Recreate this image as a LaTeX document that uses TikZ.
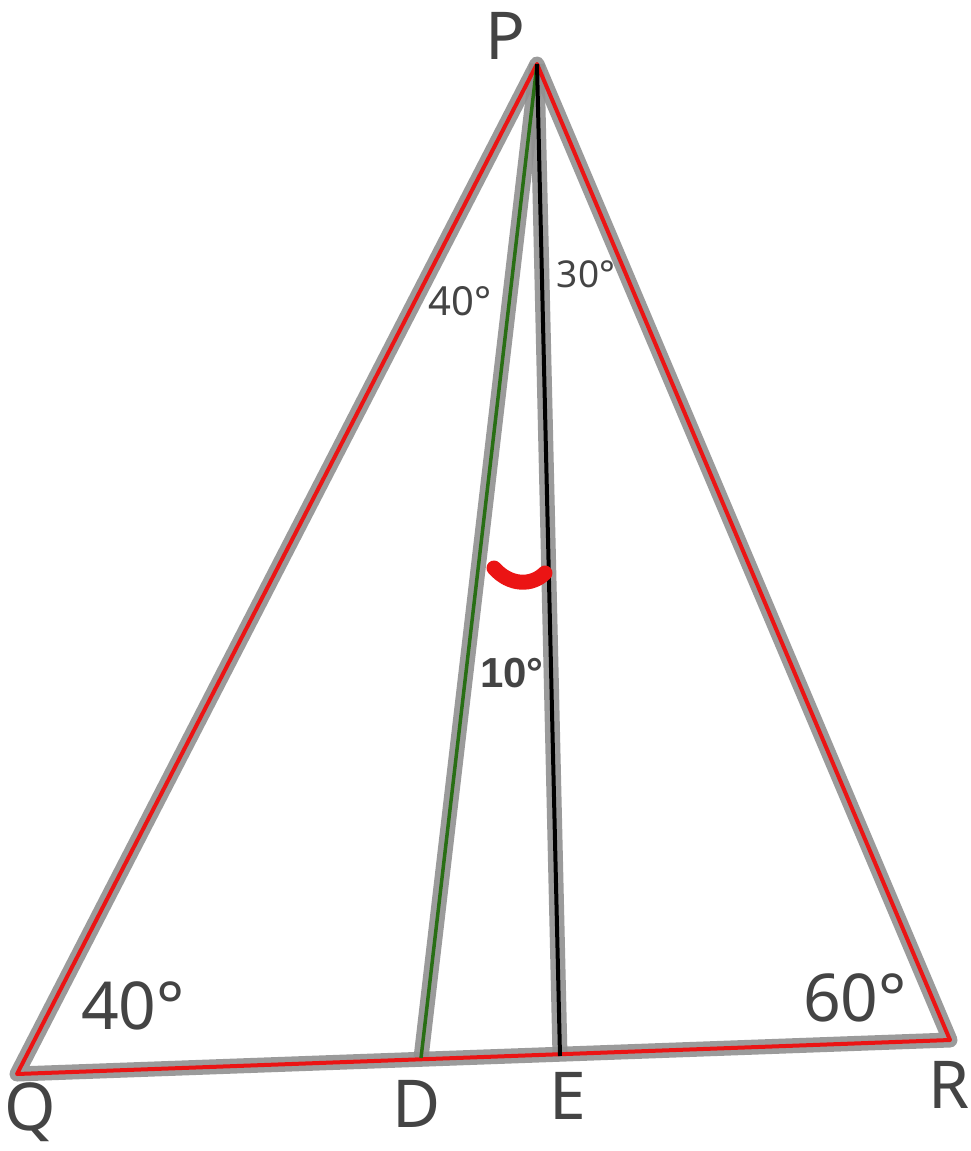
\documentclass[tikz,border=0pt]{standalone}
\usepackage{fontspec}
\setmainfont{Noto Sans}
\newfontfamily\boldsans{Liberation Sans}
\definecolor{txt}{HTML}{444444}
\definecolor{under}{RGB}{145,145,145}
\definecolor{redl}{RGB}{235,20,20}
\definecolor{greenl}{RGB}{40,110,20}
\tikzset{
  underlay/.style={draw=under, line width=15pt, line join=round, opacity=0.9},
  redline/.style={draw=redl, line width=4pt, line join=round},
  greenline/.style={draw=greenl, line width=3.5pt},
  blackline/.style={draw=black, line width=4pt},
  bigtxt/.style={text=txt, font=\fontsize{66}{76}\selectfont, inner sep=0pt},
  smalltxt/.style={text=txt, font=\fontsize{40}{46}\selectfont, inner sep=0pt},
  marker/.style={draw=redl, line width=15pt, line cap=round}
}
\begin{document}
\begin{tikzpicture}[x=1pt,y=-1pt]
\useasboundingbox[fill=white] (0,0) rectangle (971,1151);
\coordinate (P) at (537,64);
\coordinate (Q) at (17,1074);
\coordinate (R) at (950,1040);
\coordinate (D) at (421,1058);
\coordinate (E) at (560,1056);
\coordinate (M1) at (494,568);
\coordinate (M2) at (545,573);
% underlay
\draw[underlay] (P) -- (Q) -- (R) -- cycle;
\draw[underlay] (P) -- (D);
\draw[underlay] (P) -- (E);
% colored lines
\draw[redline] (P) -- (Q) -- (R) -- cycle;
\draw[greenline] (P) -- (D);
\draw[blackline] (P) -- (E);
% angle marker
\draw[marker] (M1) .. controls (510,586) and (532,586) .. (M2);
% labels
\node[bigtxt] (lP) at (505,36) {P};
\node[bigtxt] (lQ) at (30,1112) {Q};
\node[bigtxt] (lD) at (417,1104) {D};
\node[bigtxt] (lE) at (568,1096) {E};
\node[bigtxt] (lR) at (949,1085) {R};
\node[bigtxt] (aQ) at (133,1006) {40°};
\node[bigtxt] (aR) at (855,998) {60°};
\node[smalltxt] (a1) at (460,301) {40°};
\node[smalltxt, font=\fontsize{37}{44}\selectfont] (a2) at (586,274) {30°};
\node[smalltxt, font=\boldsans\fontsize{42}{46}\selectfont\bfseries] (a3) at (512,673) {10°};
\end{tikzpicture}
\end{document}
